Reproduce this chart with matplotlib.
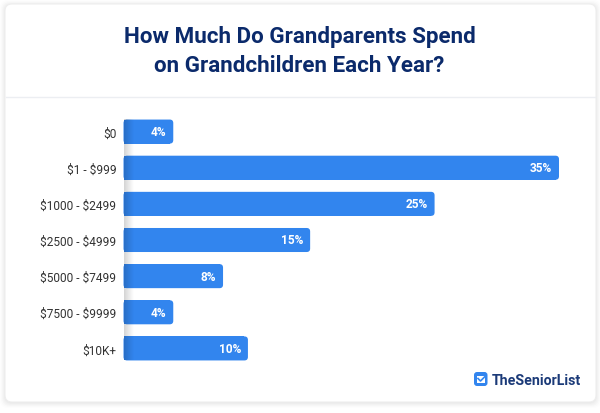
import matplotlib
matplotlib.use("Agg")
import matplotlib.pyplot as plt
import numpy as np
from matplotlib.patches import FancyBboxPatch, Rectangle

plt.rcParams['font.family'] = ['Roboto', 'DejaVu Sans']
plt.rcParams['text.parse_math'] = False

categories = ["$0", "$1 - $999", "$1000 - $2499", "$2500 - $4999", "$5000 - $7499", "$7500 - $9999", "$10K+"]
values = [4, 35, 25, 15, 8, 4, 10]
title_lines = "How Much Do Grandparents Spend\non Grandchildren Each Year?"
brand = "TheSeniorList"

W, H = 600, 414
BLUE = "#3285ee"
NAVY = "#0b2a6b"

fig = plt.figure(figsize=(W / 100, H / 100), dpi=100, facecolor="white")

# background layer in pixel coordinates, y going down
bg = fig.add_axes([0, 0, 1, 1])
bg.set_xlim(0, W)
bg.set_ylim(H, 0)
bg.axis("off")

# soft card shadow
for i, a in zip(range(6, 0, -1), [0.02, 0.03, 0.04, 0.05, 0.06, 0.07]):
    bg.add_patch(FancyBboxPatch((5 - i + 1, 5 - i + 2), 591 + 2 * i - 2, 398 + 2 * i - 2,
                                boxstyle="round,pad=0,rounding_size=8",
                                fc="#a8a8a8", ec="none", alpha=a))
bg.add_patch(FancyBboxPatch((5, 5), 591, 398, boxstyle="round,pad=0,rounding_size=7",
                            fc="white", ec="#eeeeee", lw=0.8))
bg.plot([6, 595], [97.5, 97.5], color="#eceef2", lw=1)

bg.text(299.5, 37, title_lines.split("\n")[0], ha="center", va="center", fontsize=16.1,
        fontweight="bold", color=NAVY)
bg.text(299.5, 66, title_lines.split("\n")[1], ha="center", va="center", fontsize=16.1,
        fontweight="bold", color=NAVY)

# logo
bg.add_patch(FancyBboxPatch((474, 373), 13.5, 14, boxstyle="round,pad=0,rounding_size=3",
                            fc=BLUE, ec="none"))
bg.add_patch(Rectangle((477, 377), 7.5, 7, fc="white", ec="none"))
bg.plot([478, 480.5, 485.5], [379.5, 382, 377], color=BLUE, lw=1.2)
bg.text(492, 381, brand, ha="left", va="center", fontsize=10.2, fontweight="bold", color="#1b3a78")

# chart axes: x is percent, y is row index
x0, x1 = 123.5, 559.0
y_top, y_bot = 114.5, 367.5
ax = fig.add_axes([x0 / W, 1 - y_bot / H, (x1 - x0) / W, (y_bot - y_top) / H])
ax.patch.set_alpha(0)
ax.set_xlim(0, 35)
ax.set_ylim(6.5, -0.5)
for s in ax.spines.values():
    s.set_visible(False)
ax.set_xticks([])
ax.set_yticks(range(len(categories)))
ax.set_yticklabels(categories, fontsize=8.6, color="#333333")
ax.tick_params(axis="y", length=0, pad=5.2)

bar_h = 0.665
px_x = (x1 - x0) / 35
px_y = (y_bot - y_top) / 7
r = 3.5 / px_x
for i, v in enumerate(values):
    ax.barh(i, v - r, height=bar_h, color=BLUE, zorder=2)
    ax.add_patch(FancyBboxPatch((0, i - bar_h / 2), v, bar_h,
                                boxstyle=f"round,pad=0,rounding_size={r}",
                                mutation_aspect=px_x / px_y,
                                fc=BLUE, ec="none", zorder=2, clip_on=False))
    ax.text(v - 7 / px_x, i, f"{v}%", ha="right", va="center", color="white",
            fontsize=8.6, fontweight="bold", zorder=4)

# shadow falling to the right of the axis line
shade = np.zeros((1, 64, 4))
shade[0, :, 3] = np.linspace(0.17, 0, 64)
ax.imshow(shade, extent=(0, 10 / px_x, 6 + bar_h / 2, -bar_h / 2), aspect="auto", zorder=3,
          interpolation="bilinear")
ax.set_xlim(0, 35)
ax.set_ylim(6.5, -0.5)

fig.savefig("out.png", dpi=100, facecolor="white")
